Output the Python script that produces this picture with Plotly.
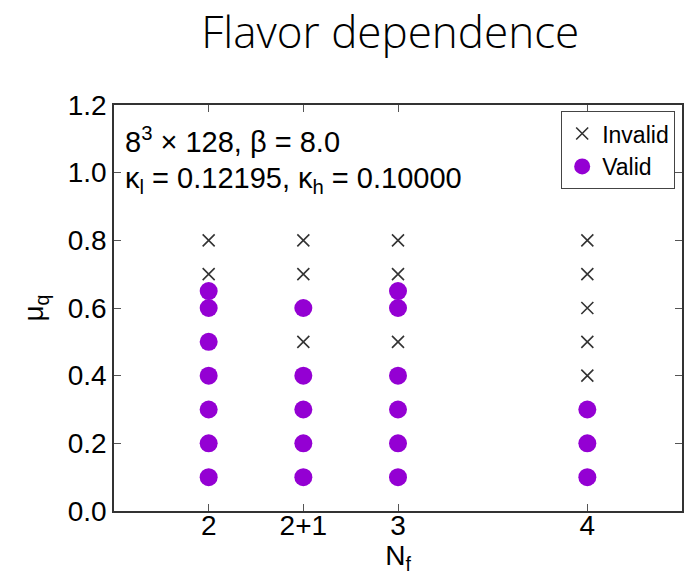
import plotly.graph_objects as go

# Data
nf_labels = ["2", "2+1", "3", "4"]
nf_pos = [2, 2.5, 3, 4]

invalid_nf = ["2", "2", "2+1", "2+1", "2+1", "3", "3", "3", "4", "4", "4", "4", "4"]
invalid_mu = [0.8, 0.7, 0.8, 0.7, 0.5, 0.8, 0.7, 0.5, 0.8, 0.7, 0.6, 0.5, 0.4]

valid_nf = ["2"] * 7 + ["2+1"] * 5 + ["3"] * 6 + ["4"] * 3
valid_mu = [0.65, 0.6, 0.5, 0.4, 0.3, 0.2, 0.1,
            0.6, 0.4, 0.3, 0.2, 0.1,
            0.65, 0.6, 0.4, 0.3, 0.2, 0.1,
            0.3, 0.2, 0.1]

pos_map = dict(zip(nf_labels, nf_pos))

fig = go.Figure()
fig.add_trace(go.Scatter(
    x=[pos_map[n] for n in invalid_nf], y=invalid_mu, mode="markers", name="Invalid",
    marker=dict(symbol="x-thin", size=12, color="#333333", line=dict(width=1.6, color="#333333")),
))
fig.add_trace(go.Scatter(
    x=[pos_map[n] for n in valid_nf], y=valid_mu, mode="markers", name="Valid",
    marker=dict(symbol="circle", size=18, color="#9400D3", line=dict(width=0)),
))

FONT = "Liberation Sans, Arial"
axis_font = dict(family=FONT, size=28, color="black")

fig.update_layout(
    width=687, height=575,
    margin=dict(l=114, r=3, t=105, b=64),
    paper_bgcolor="white", plot_bgcolor="white",
    showlegend=True,
    legend=dict(x=0.988, y=0.985, xanchor="right", yanchor="top",
                bordercolor="#444", borderwidth=1, bgcolor="white",
                font=dict(family=FONT, size=23, color="black"),
                itemsizing="trace", tracegroupgap=0),
    title=dict(text="Flavor dependence", x=0.568, xanchor="center", y=0.97, yanchor="top",
               font=dict(family="Open Sans", size=44, color="black", weight=300)),
    xaxis=dict(range=[1.5, 4.5], tickvals=nf_pos, ticktext=nf_labels,
               showgrid=False, zeroline=False, showline=True, linecolor="#333", linewidth=1.5,
               mirror="ticks", ticks="inside", ticklen=7, tickcolor="#555",
               tickfont=axis_font, ticklabelstandoff=-11,
               title=dict(text="N<sub>f</sub>", font=axis_font, standoff=0)),
    yaxis=dict(range=[0, 1.2], tickvals=[0, 0.2, 0.4, 0.6, 0.8, 1.0, 1.2],
               tickformat=".1f",
               showgrid=False, zeroline=False, showline=True, linecolor="#333", linewidth=1.5,
               mirror="ticks", ticks="inside", ticklen=7, tickcolor="#555",
               tickfont=axis_font,
               title=dict(text="μ<sub>q</sub>", font=axis_font, standoff=16)),
    annotations=[
        dict(xref="paper", yref="paper", x=0.015, y=0.913, xanchor="left", yanchor="middle",
             text="8<sup>3</sup> × 128, β = 8.0", showarrow=False, align="left",
             font=dict(family=FONT, size=29, color="black")),
        dict(xref="paper", yref="paper", x=0.015, y=0.815, xanchor="left", yanchor="middle",
             text="κ<sub>l</sub> = 0.12195, κ<sub>h</sub> = 0.10000", showarrow=False, align="left",
             font=dict(family=FONT, size=29, color="black")),
    ],
)

fig.write_html("out.html")
